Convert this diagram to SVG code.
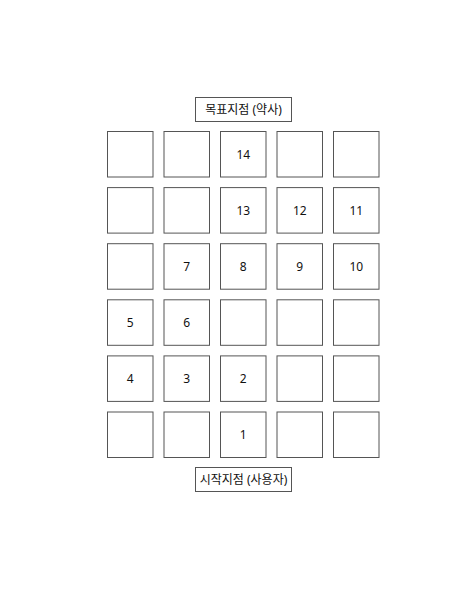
<svg xmlns="http://www.w3.org/2000/svg" width="470" height="612" viewBox="0 0 470 612">
<style>
.b{fill:#fff;stroke:#555;stroke-width:1}
.t{font-family:"Noto Sans","Noto Sans CJK KR",sans-serif;font-size:12px;fill:#111;text-anchor:middle;dominant-baseline:central}
</style>
<rect width="470" height="612" fill="#fff"/>
<g id="goal"><rect class="b" x="195.5" y="97.5" width="96" height="24"/><text class="t" x="243.5" y="109.5">목표지점 (약사)</text></g>
<g id="start"><rect class="b" x="195.5" y="467.5" width="96" height="24"/><text class="t" x="243.5" y="479.5">시작지점 (사용자)</text></g>
<g id="r0c0"><rect class="b" x="107.5" y="131.5" width="45.5" height="45.5"/></g>
<g id="r0c1"><rect class="b" x="164" y="131.5" width="45.5" height="45.5"/></g>
<g id="n14"><rect class="b" x="220.5" y="131.5" width="45.5" height="45.5"/><text class="t" x="243.25" y="154.25">14</text></g>
<g id="r0c3"><rect class="b" x="277" y="131.5" width="45.5" height="45.5"/></g>
<g id="r0c4"><rect class="b" x="333.5" y="131.5" width="45.5" height="45.5"/></g>
<g id="r1c0"><rect class="b" x="107.5" y="187.6" width="45.5" height="45.5"/></g>
<g id="r1c1"><rect class="b" x="164" y="187.6" width="45.5" height="45.5"/></g>
<g id="n13"><rect class="b" x="220.5" y="187.6" width="45.5" height="45.5"/><text class="t" x="243.25" y="210.35">13</text></g>
<g id="n12"><rect class="b" x="277" y="187.6" width="45.5" height="45.5"/><text class="t" x="299.75" y="210.35">12</text></g>
<g id="n11"><rect class="b" x="333.5" y="187.6" width="45.5" height="45.5"/><text class="t" x="356.25" y="210.35">11</text></g>
<g id="r2c0"><rect class="b" x="107.5" y="243.7" width="45.5" height="45.5"/></g>
<g id="n7"><rect class="b" x="164" y="243.7" width="45.5" height="45.5"/><text class="t" x="186.75" y="266.45">7</text></g>
<g id="n8"><rect class="b" x="220.5" y="243.7" width="45.5" height="45.5"/><text class="t" x="243.25" y="266.45">8</text></g>
<g id="n9"><rect class="b" x="277" y="243.7" width="45.5" height="45.5"/><text class="t" x="299.75" y="266.45">9</text></g>
<g id="n10"><rect class="b" x="333.5" y="243.7" width="45.5" height="45.5"/><text class="t" x="356.25" y="266.45">10</text></g>
<g id="n5"><rect class="b" x="107.5" y="299.8" width="45.5" height="45.5"/><text class="t" x="130.25" y="322.55">5</text></g>
<g id="n6"><rect class="b" x="164" y="299.8" width="45.5" height="45.5"/><text class="t" x="186.75" y="322.55">6</text></g>
<g id="r3c2"><rect class="b" x="220.5" y="299.8" width="45.5" height="45.5"/></g>
<g id="r3c3"><rect class="b" x="277" y="299.8" width="45.5" height="45.5"/></g>
<g id="r3c4"><rect class="b" x="333.5" y="299.8" width="45.5" height="45.5"/></g>
<g id="n4"><rect class="b" x="107.5" y="355.9" width="45.5" height="45.5"/><text class="t" x="130.25" y="378.65">4</text></g>
<g id="n3"><rect class="b" x="164" y="355.9" width="45.5" height="45.5"/><text class="t" x="186.75" y="378.65">3</text></g>
<g id="n2"><rect class="b" x="220.5" y="355.9" width="45.5" height="45.5"/><text class="t" x="243.25" y="378.65">2</text></g>
<g id="r4c3"><rect class="b" x="277" y="355.9" width="45.5" height="45.5"/></g>
<g id="r4c4"><rect class="b" x="333.5" y="355.9" width="45.5" height="45.5"/></g>
<g id="r5c0"><rect class="b" x="107.5" y="412" width="45.5" height="45.5"/></g>
<g id="r5c1"><rect class="b" x="164" y="412" width="45.5" height="45.5"/></g>
<g id="n1"><rect class="b" x="220.5" y="412" width="45.5" height="45.5"/><text class="t" x="243.25" y="434.75">1</text></g>
<g id="r5c3"><rect class="b" x="277" y="412" width="45.5" height="45.5"/></g>
<g id="r5c4"><rect class="b" x="333.5" y="412" width="45.5" height="45.5"/></g>
<g id="connectors"></g>
</svg>
